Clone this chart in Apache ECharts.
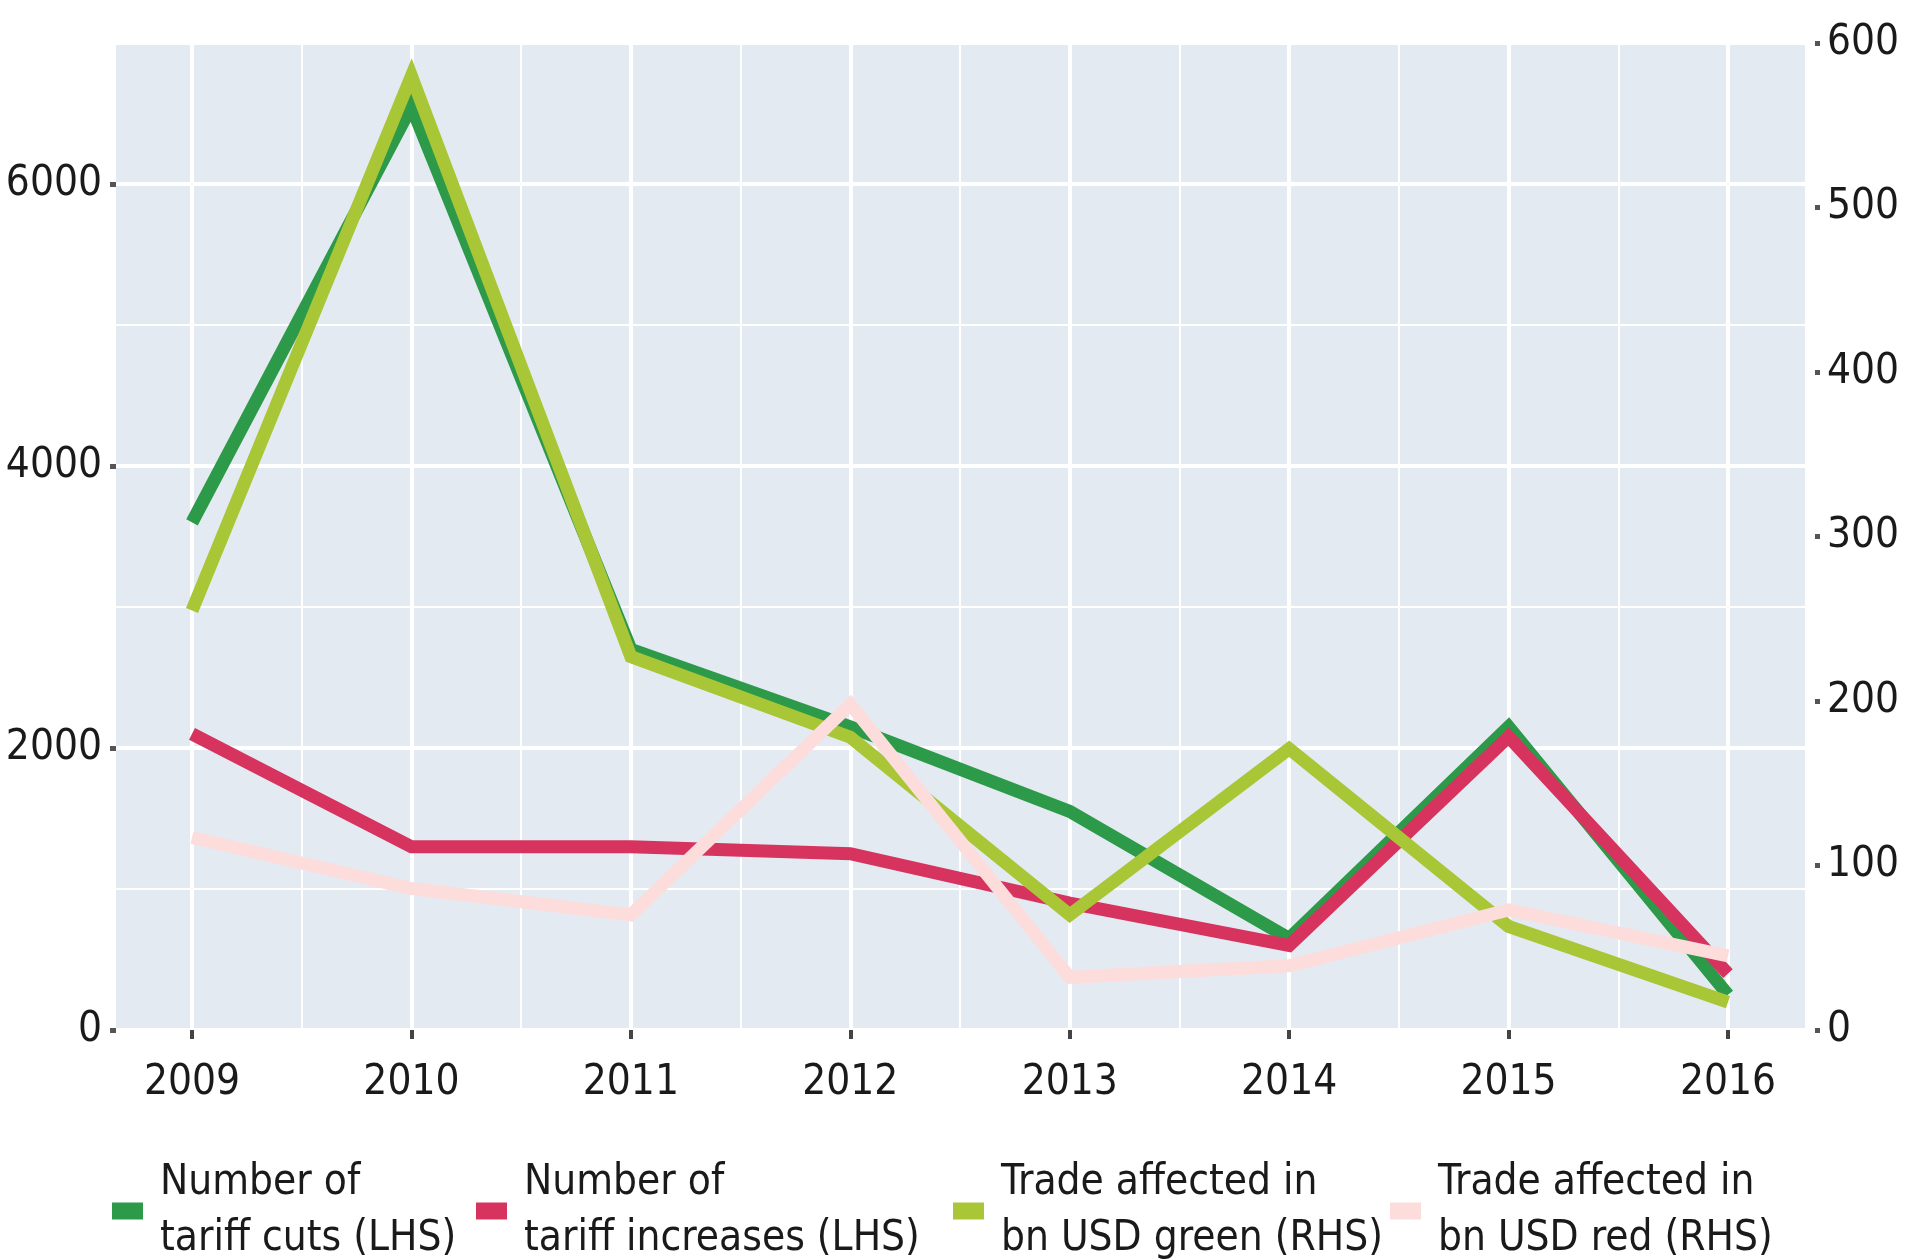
<!DOCTYPE html>
<html>
<head>
<meta charset="utf-8">
<script src="https://cdn.jsdelivr.net/npm/echarts@6/dist/echarts.min.js"></script>
<style>
  html, body { margin: 0; padding: 0; background: #fff; }
  #chart { width: 1915px; height: 1259px; }
</style>
</head>
<body>
<div id="chart"></div>
<script>
const years = [2009, 2010, 2011, 2012, 2013, 2014, 2015, 2016]
const tariffCuts = [3600, 6550, 2700, 2150, 1550, 650, 2150, 250]
const tariffIncreases = [2100, 1300, 1300, 1250, 900, 600, 2080, 400]
const tradeGreen = [255, 580, 227, 178, 70, 171, 63, 17]
const tradeRed = [117, 86, 70, 198, 32, 39, 73, 45]

const leftTicks = { min: 0, max: 7000, interval: 2000 }
const rightTicks = { min: 0, max: 600, interval: 100 }

const seriesNames = [
  'Number of\ntariff cuts (LHS)',
  'Number of\ntariff increases (LHS)',
  'Trade affected in\nbn USD green (RHS)',
  'Trade affected in\nbn USD red (RHS)'
]
const colors = ['#2c9a48', '#d7335f', '#a9c637', '#fddcdc']

const font = "'Liberation Sans Narrow', 'DejaVu Sans Condensed', 'Open Sans', sans-serif"
const fontSize = 42
const textColor = '#1a1a1a'
const plotBg = '#e4eaf2'

const pairs = vals => years.map((y, i) => [y, vals[i]])

const chart = echarts.init(document.getElementById('chart'))

const lineSeries = (i, vals, yIdx) => ({
  name: seriesNames[i],
  type: 'line',
  xAxisIndex: 1,
  yAxisIndex: yIdx,
  data: pairs(vals),
  symbol: 'none',
  color: colors[i],
  lineStyle: { width: 13, color: colors[i], join: 'miter', cap: 'butt' },
  z: 3 + i
})

const legendLefts = [107, 471, 948, 1385]

chart.setOption({
  animation: false,
  backgroundColor: '#fff',
  legend: seriesNames.map((n, i) => ({
    data: [n],
    left: legendLefts[i],
    top: 1150,
    icon: 'rect',
    itemWidth: 31,
    itemHeight: 17,
    selectedMode: false,
    textStyle: {
      fontFamily: font,
      fontSize: fontSize,
      lineHeight: 56,
      color: textColor,
      padding: [0, 0, 0, 12]
    }
  })),
  grid: [
    { left: 116, width: 1689, top: 43, height: 987, show: true, backgroundColor: plotBg, borderWidth: 0 },
    { left: 192, width: 1536, top: 43, height: 987, show: false }
  ],
  xAxis: [
    { gridIndex: 0, type: 'value', min: 0, max: 1, show: false },
    {
      gridIndex: 1,
      type: 'value',
      min: years[0],
      max: years[years.length - 1],
      interval: 1,
      axisLine: { show: false },
      axisTick: { show: true, length: 9, lineStyle: { color: '#444', width: 4 } },
      axisLabel: {
        fontFamily: font,
        fontSize: fontSize,
        color: textColor,
        margin: 32,
        formatter: v => String(v)
      },
      splitLine: { show: true, lineStyle: { color: '#fff', width: 4 } },
      minorTick: { show: false, splitNumber: 2 },
      minorSplitLine: { show: true, lineStyle: { color: '#fff', width: 2 } }
    }
  ],
  yAxis: [
    {
      gridIndex: 0,
      type: 'value',
      position: 'left',
      ...leftTicks,
      offset: 4,
      axisLine: { show: false },
      axisTick: { show: true, length: 6, lineStyle: { color: '#555', width: 5 } },
      axisLabel: {
        fontFamily: font,
        fontSize: fontSize,
        color: textColor,
        margin: 10,
        showMaxLabel: false,
        formatter: v => String(v)
      },
      splitLine: { show: true, lineStyle: { color: '#fff', width: 4 } }
    },
    {
      // thin lines halfway between the labelled ones
      gridIndex: 0,
      type: 'value',
      position: 'left',
      ...leftTicks,
      inverse: true,
      axisLine: { show: false },
      axisTick: { show: false },
      axisLabel: { show: false },
      splitLine: { show: true, lineStyle: { color: '#fff', width: 2 } }
    },
    {
      gridIndex: 0,
      type: 'value',
      position: 'right',
      ...rightTicks,
      offset: 10,
      axisLine: { show: false },
      axisTick: { show: true, length: 5, lineStyle: { color: '#555', width: 5 } },
      axisLabel: {
        fontFamily: font,
        fontSize: fontSize,
        color: textColor,
        margin: 12,
        formatter: v => String(v)
      },
      splitLine: { show: false }
    },
    { gridIndex: 1, type: 'value', position: 'left', min: leftTicks.min, max: leftTicks.max, show: false },
    { gridIndex: 1, type: 'value', position: 'right', min: rightTicks.min, max: rightTicks.max, show: false }
  ],
  series: [
    lineSeries(0, tariffCuts, 3),
    lineSeries(1, tariffIncreases, 3),
    lineSeries(2, tradeGreen, 4),
    lineSeries(3, tradeRed, 4)
  ]
})
</script>
</body>
</html>
